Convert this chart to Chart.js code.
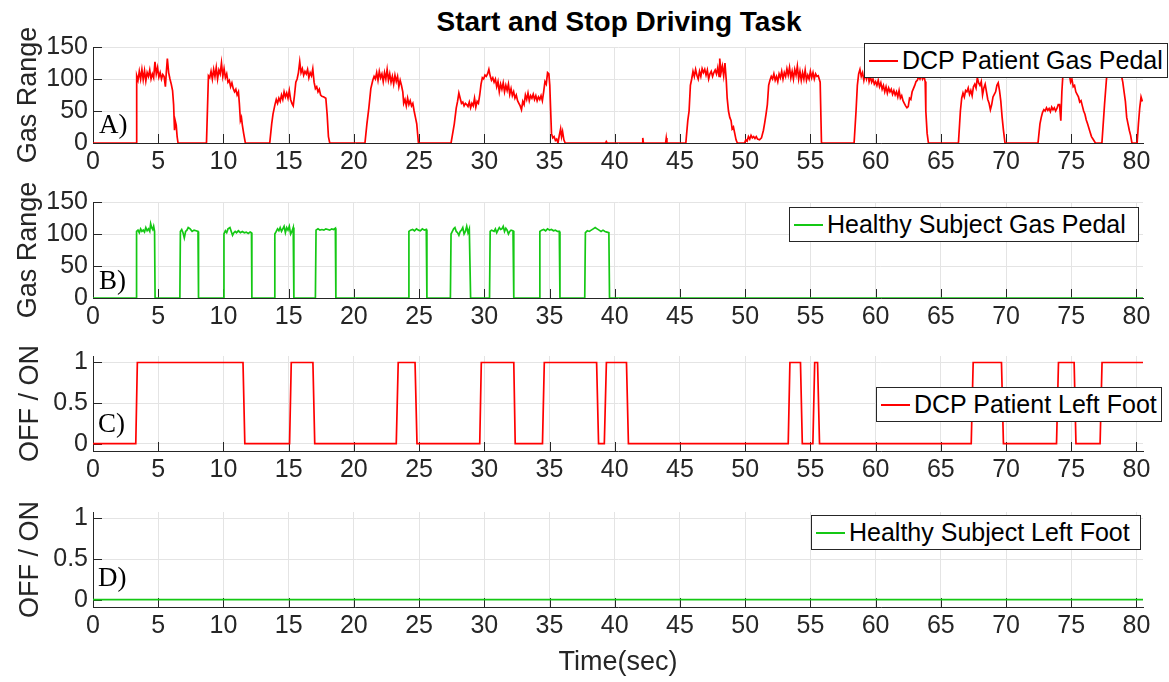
<!DOCTYPE html>
<html><head><meta charset="utf-8">
<script src="https://cdn.jsdelivr.net/npm/chart.js@4.4.1/dist/chart.umd.min.js"></script>
<style>
html,body{margin:0;padding:0;background:#fff;width:1169px;height:682px;overflow:hidden;position:relative;font-family:"Liberation Sans",Arial,sans-serif;}
canvas{position:absolute;left:0;}
.lg{position:absolute;background:#fff;border:1px solid #262626;box-sizing:border-box;font-size:25px;color:#000;white-space:nowrap;display:flex;align-items:center;z-index:5;}
.lg .s{display:inline-block;width:29px;height:2px;margin-left:4px;margin-right:4px;}
.pl{position:absolute;font-family:"Liberation Serif","Times New Roman",serif;font-size:27px;line-height:27px;color:#000;z-index:5;}
#title{position:absolute;left:0;width:1238px;text-align:center;top:8px;font-weight:bold;font-size:28px;line-height:28px;color:#000;}
</style></head>
<body>
<div id="title">Start and Stop Driving Task</div>
<canvas id="cA" width="1169" height="151" style="top:27px"></canvas>
<canvas id="cB" width="1169" height="151" style="top:182px"></canvas>
<canvas id="cC" width="1169" height="150" style="top:336px"></canvas>
<canvas id="cD" width="1169" height="190" style="top:492px"></canvas>
<div class="lg" style="left:864px;top:43px;width:304px;height:35px"><span class="s" style="background:#ff0000"></span>DCP Patient Gas Pedal</div>
<div class="lg" style="left:789px;top:207px;width:350px;height:35px"><span class="s" style="background:#14c814"></span>Healthy Subject Gas Pedal</div>
<div class="lg" style="left:876px;top:387px;width:286px;height:35px"><span class="s" style="background:#ff0000"></span>DCP Patient Left Foot</div>
<div class="lg" style="left:811px;top:515px;width:330px;height:35px"><span class="s" style="background:#14c814"></span>Healthy Subject Left Foot</div>
<div class="pl" style="left:99px;top:111px">A)</div>
<div class="pl" style="left:99px;top:267px">B)</div>
<div class="pl" style="left:98px;top:410px">C)</div>
<div class="pl" style="left:98px;top:564px">D)</div>
<script>
// ---- data ----
const xTicks = [0,5,10,15,20,25,30,35,40,45,50,55,60,65,70,75,80];
const gasTicks = [0,50,100,150];
const footTicks = [0,0.5,1];

const aTime = [0,3.30,3.35,3.45,3.55,3.65,3.75,3.85,3.95,4.05,4.15,4.25,4.35,4.45,4.55,4.65,4.75,4.85,4.95,5.05,5.15,5.25,5.35,5.45,5.55,5.62,5.70,5.80,5.90,6.00,6.10,6.18,6.25,6.30,6.38,6.45,6.52,
8.70,8.85,8.95,9.05,9.15,9.25,9.35,9.45,9.55,9.65,9.75,9.85,9.95,10.05,10.15,10.25,10.35,10.45,10.55,10.65,10.75,10.85,10.95,11.05,11.15,11.22,11.30,11.38,11.45,11.55,11.68,
13.55,13.70,13.80,13.95,14.05,14.15,14.25,14.35,14.45,14.55,14.65,14.75,14.85,14.95,15.05,15.15,15.25,15.35,15.45,15.55,15.65,15.75,15.85,15.95,16.05,16.15,16.25,16.35,16.45,16.55,16.65,16.75,16.85,16.95,17.05,17.15,17.25,17.35,17.45,17.55,17.70,17.85,17.95,18.05,18.15,
20.85,21.00,21.15,21.30,21.45,21.55,21.65,21.75,21.85,21.95,22.05,22.15,22.25,22.35,22.45,22.55,22.65,22.75,22.85,22.95,23.05,23.15,23.25,23.35,23.45,23.55,23.65,23.75,23.82,23.92,24.02,24.12,24.22,24.32,24.42,24.52,24.62,24.72,24.82,24.95,
27.45,27.55,27.70,27.85,27.95,28.05,28.15,28.25,28.35,28.45,28.55,28.65,28.75,28.85,28.95,29.05,29.15,29.25,29.35,29.45,29.55,29.65,29.75,29.85,29.95,30.05,30.15,30.25,30.35,30.45,30.55,30.65,30.75,30.85,30.95,31.05,31.15,31.25,31.35,31.45,31.55,31.65,31.75,31.85,31.95,32.05,32.15,32.25,32.35,32.45,32.55,32.65,32.75,32.85,32.95,33.05,33.15,33.25,33.35,33.45,33.55,33.65,33.75,33.85,33.95,34.05,34.15,34.25,34.35,34.45,34.55,34.65,34.75,34.85,34.95,35.02,35.08,35.15,35.25,35.35,35.45,35.55,35.65,35.75,35.85,35.92,36.00,36.10,36.20,
39.30,39.35,39.40,42.10,42.15,42.20,43.90,43.95,44.00,
45.45,45.60,45.70,45.80,45.90,46.00,46.10,46.20,46.30,46.40,46.50,46.60,46.70,46.80,46.90,47.00,47.10,47.20,47.30,47.40,47.50,47.60,47.70,47.80,47.90,48.00,48.05,48.15,48.25,48.35,48.45,48.55,48.62,48.72,48.82,48.92,49.00,49.10,49.20,49.30,49.40,
49.95,50.05,50.15,50.25,50.35,50.45,50.55,50.65,50.75,50.85,50.95,51.10,51.25,51.40,51.50,51.60,51.70,51.80,51.90,52.00,52.10,52.20,52.30,52.40,52.50,52.60,52.70,52.80,52.90,53.00,53.10,53.20,53.30,53.40,53.50,53.60,53.70,53.80,53.90,54.00,54.10,54.20,54.30,54.40,54.50,54.60,54.70,54.80,54.90,55.00,55.10,55.20,55.30,55.40,55.50,55.60,55.75,55.85,
58.35,58.50,58.60,58.70,58.80,58.90,59.00,59.10,59.20,59.30,59.40,59.50,59.60,59.70,59.80,59.90,60.00,60.10,60.20,60.30,60.40,60.50,60.60,60.70,60.80,60.90,61.00,61.10,61.20,61.30,61.40,61.50,61.60,61.70,61.80,61.90,62.00,62.10,62.20,62.30,62.40,62.50,62.60,62.70,62.80,62.90,63.00,63.10,63.20,63.30,63.40,63.50,63.60,63.70,63.80,63.85,63.95,64.05,
66.35,66.50,66.60,66.70,66.80,66.90,67.00,67.10,67.20,67.30,67.40,67.50,67.60,67.70,67.80,67.90,68.00,68.10,68.20,68.30,68.40,68.50,68.60,68.70,68.80,68.90,69.00,69.10,69.20,69.30,69.40,69.50,69.60,69.70,69.80,69.92,
72.45,72.60,72.70,72.80,72.90,73.00,73.10,73.20,73.30,73.40,73.50,73.60,73.70,73.80,73.90,74.00,74.10,74.20,74.28,74.40,74.55,74.70,74.85,74.95,75.05,75.15,75.25,75.35,75.45,75.55,75.65,75.75,75.85,75.95,76.05,76.15,76.25,76.40,76.55,76.70,76.85,
77.35,77.55,77.70,77.85,78.00,78.20,78.40,78.60,78.80,78.95,79.05,79.15,79.25,79.35,79.45,79.55,79.65,80.05,80.15,80.25,80.35,80.45];
const aGas = [0,0,105,98,112,100,115,99,113,97,110,104,114,100,108,102,127,108,118,103,110,100,107,104,88,110,132,110,100,92,82,60,20,35,28,10,0,
0,105,102,112,100,115,104,118,100,114,108,125,104,116,102,108,95,98,88,94,85,80,84,75,80,62,35,40,28,15,0,
0,30,45,60,68,62,70,65,75,68,80,72,78,70,82,68,62,58,75,95,100,110,127,110,116,106,112,108,115,102,110,105,116,95,85,88,80,84,75,73,72,70,45,10,0,
0,30,55,85,98,104,100,110,98,112,102,108,96,110,100,115,98,108,95,104,92,106,96,104,88,98,90,80,62,68,58,70,60,66,58,62,50,40,30,0,
0,12,30,55,65,78,70,62,64,58,62,60,57,64,55,62,58,70,56,65,62,75,92,102,100,106,104,108,115,105,98,102,95,100,88,96,80,92,84,94,80,90,82,92,76,85,74,80,70,75,66,62,58,52,65,60,75,68,78,66,74,70,76,68,74,66,72,68,74,66,80,96,92,110,108,90,55,15,8,10,4,6,0,12,22,10,18,5,0,
0,2,0,0,8,0,0,8,0,
0,35,50,90,100,112,104,115,106,100,112,104,116,110,115,106,114,100,108,112,104,110,114,108,118,104,132,110,120,105,125,98,70,50,40,35,22,25,15,5,0,
0,5,3,10,6,12,8,10,7,10,6,5,8,20,32,45,60,90,98,104,100,108,98,104,96,108,102,112,100,110,104,116,106,118,102,112,100,115,106,120,100,112,98,110,100,114,98,106,100,112,102,110,100,108,104,105,95,0,
0,50,90,108,115,104,110,98,108,100,110,96,104,95,100,92,96,90,98,88,94,84,90,80,88,78,86,80,84,76,82,75,80,72,82,70,74,66,62,58,55,57,70,68,80,85,90,96,98,104,100,106,100,105,96,50,15,0,
0,50,70,78,72,82,80,86,76,82,74,88,92,86,102,94,90,96,75,86,92,80,68,62,52,60,72,76,80,90,94,82,65,40,20,0,
0,30,40,48,52,50,55,51,54,49,56,52,55,50,54,60,60,35,80,120,128,120,108,95,100,88,90,80,76,72,64,66,58,50,45,36,30,20,10,5,0,
0,60,100,120,125,118,128,120,110,95,80,65,40,30,20,12,0,0,30,55,72,65];

const bTime = [0,3.30,3.34,3.45,3.55,3.65,3.75,3.85,3.95,4.05,4.15,4.25,4.35,4.42,4.50,4.58,4.65,4.72,4.76,
6.66,6.70,6.80,6.90,7.00,7.10,7.20,7.30,7.45,7.60,7.75,7.90,8.05,8.09,
10.00,10.04,10.15,10.25,10.35,10.50,10.60,10.70,10.80,10.90,11.00,11.15,11.30,11.45,11.60,11.75,11.90,12.05,12.15,12.18,
13.90,13.94,14.05,14.15,14.25,14.35,14.45,14.55,14.65,14.75,14.85,14.95,15.05,15.15,15.25,15.35,15.40,
17.05,17.10,17.25,17.40,17.55,17.70,17.85,18.00,18.15,18.30,18.45,18.58,18.62,
24.18,24.22,24.35,24.50,24.65,24.80,24.95,25.10,25.25,25.40,25.55,25.60,
27.40,27.45,27.55,27.65,27.75,27.85,27.95,28.05,28.15,28.25,28.35,28.45,28.55,28.65,28.75,28.85,28.95,
30.40,30.45,30.55,30.65,30.75,30.85,30.95,31.05,31.15,31.25,31.35,31.45,31.55,31.65,31.75,31.85,31.95,32.05,32.20,32.26,
34.22,34.26,34.40,34.55,34.70,34.85,35.00,35.15,35.30,35.45,35.60,35.75,35.80,
37.70,37.75,37.90,38.05,38.20,38.35,38.50,38.65,38.80,38.95,39.10,39.25,39.40,39.55,39.60,80.5];
const bGas = [0,0,104,106,102,108,104,106,103,110,105,108,104,116,110,107,112,104,0,
0,104,107,102,94,104,106,110,108,104,106,105,104,0,
0,100,105,102,108,110,104,98,102,104,102,105,102,104,102,103,101,103,102,0,
0,100,104,108,105,110,104,108,112,102,110,106,112,100,104,110,0,
0,106,108,106,107,106,108,107,106,108,107,109,0,
0,104,106,107,105,108,106,105,108,106,107,0,
0,100,104,108,110,104,102,98,104,106,110,100,104,112,102,108,0,
0,104,106,105,104,108,102,106,110,107,108,112,104,109,106,100,104,106,105,0,
0,104,106,107,105,108,106,107,105,106,104,104,0,
0,102,105,104,106,108,110,108,106,104,106,104,103,102,0,0];

const cTime = [0,3.28,3.40,11.50,11.64,15.07,15.20,16.86,17.00,23.25,23.40,24.69,24.84,29.65,29.77,32.26,32.37,34.46,34.60,38.61,38.76,39.20,39.36,40.90,41.05,53.30,53.43,54.24,54.38,55.19,55.33,55.55,55.70,67.33,67.48,69.65,69.80,73.87,74.02,75.22,75.36,77.21,77.36,80.5];
const cFoot = [0,0,1,1,0,0,1,1,0,0,1,1,0,0,1,1,0,0,1,1,0,0,1,1,0,0,1,1,0,0,1,1,0,0,1,1,0,0,1,1,0,0,1,1];

const dTime = [0,80.5];
const dFoot = [0,0];

// ---- drawing ----
const FONT = '"Liberation Sans", Arial, sans-serif';
const insideTicks = {
  id:'insideTicks',
  beforeDatasetsDraw(chart){
    const {ctx, chartArea, scales} = chart;
    const x = scales.x, y = scales.y;
    ctx.save(); ctx.strokeStyle = '#262626'; ctx.lineWidth = 1; ctx.beginPath();
    x.ticks.forEach(t => { const px = Math.round(x.getPixelForValue(t.value)) + 0.5; ctx.moveTo(px, chartArea.bottom); ctx.lineTo(px, chartArea.bottom - 9); });
    y.ticks.forEach(t => { const py = Math.round(y.getPixelForValue(t.value)) + 0.5; ctx.moveTo(chartArea.left, py); ctx.lineTo(chartArea.left + 9, py); });
    ctx.stroke(); ctx.restore();
  }
};

function makeChart(id, times, values, color, yMin, yMax, yTicks, yTitle, yTitlePad, xh, xTitle){
  const pts = times.map((t,i) => ({x:t, y:values[i]}));
  return new Chart(document.getElementById(id), {
    type:'line',
    data:{datasets:[{data:pts, borderColor:color, borderWidth:1.7, pointRadius:0, tension:0, fill:false}]},
    options:{
      responsive:false, animation:false, devicePixelRatio:1,
      layout:{padding:{top:16,right:26,bottom:0,left:0}},
      plugins:{legend:{display:false}, tooltip:{enabled:false}},
      scales:{
        x:{type:'linear', min:0, max:80.5,
          afterBuildTicks: s => { s.ticks = xTicks.map(v => ({value:v})); },
          afterFit: s => { s.height = xh; },
          grid:{color:'#e4e4e4', drawTicks:false, lineWidth:1},
          border:{display:true, color:'#262626', width:1},
          ticks:{color:'#262626', font:{family:FONT, size:25}, padding:4, maxRotation:0, autoSkip:false, callback:v => String(v)},
          title: xTitle ? {display:true, text:xTitle, color:'#262626', font:{family:FONT, size:27}, padding:{top:0, bottom:3}} : {display:false}
        },
        y:{type:'linear', min:yMin, max:yMax,
          afterBuildTicks: s => { s.ticks = yTicks.map(v => ({value:v})); },
          afterFit: s => { s.width = 93; },
          grid:{color:'#e4e4e4', drawTicks:false, lineWidth:1},
          border:{display:true, color:'#262626', width:1},
          ticks:{color:'#262626', font:{family:FONT, size:25}, padding:5, autoSkip:false, callback:v => String(v)},
          title:{display:true, text:yTitle, color:'#262626', font:{family:FONT, size:27}, padding:{top:yTitlePad, bottom:0}}
        }
      }
    },
    plugins:[insideTicks]
  });
}

makeChart('cA', aTime, aGas, '#ff0000', 0, 150, gasTicks, 'Gas Range', 12, 35, null);
makeChart('cB', bTime, bGas, '#14c814', 0, 150, gasTicks, 'Gas Range', 12, 35, null);
makeChart('cC', cTime, cFoot, '#ff0000', -0.09, 1.08, footTicks, 'OFF / ON', 14, 35, null);
makeChart('cD', dTime, dFoot, '#14c814', -0.09, 1.08, footTicks, 'OFF / ON', 14, 75, 'Time(sec)');
</script>
</body></html>
